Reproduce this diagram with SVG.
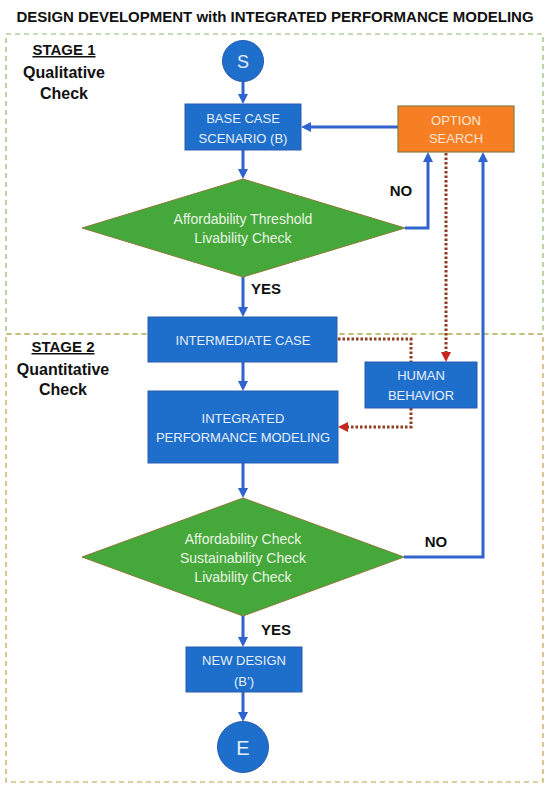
<svg xmlns="http://www.w3.org/2000/svg" width="550" height="788" viewBox="0 0 550 788">
<defs>
<style>
.title{font-family:"Liberation Sans",Arial,sans-serif;font-weight:bold;font-size:15px;fill:#111}
.stage{font-family:"Liberation Sans",Arial,sans-serif;font-weight:bold;font-size:15px;fill:#111;text-decoration:underline}
.stg{font-family:"Liberation Sans",Arial,sans-serif;font-weight:bold;font-size:16px;fill:#111}
.lbl{font-family:"Liberation Sans",Arial,sans-serif;font-weight:bold;font-size:15px;fill:#111}
.bx{fill:#1E6FCB;stroke:#2A5CAE;stroke-width:1}
.bt{font-family:"Liberation Sans",Arial,sans-serif;font-size:13px;fill:#E6EEFA;text-anchor:middle}
.dt{font-family:"Liberation Sans",Arial,sans-serif;font-size:14px;fill:#EAF5E4;text-anchor:middle}
.ct{font-family:"Liberation Sans",Arial,sans-serif;fill:#E6EEFA;text-anchor:middle}
.dia{fill:#45A83B;stroke:#8A7A3A;stroke-width:1}
.c{fill:none;stroke:#3163CE;stroke-width:3}
.r{fill:none;stroke:#8E3B1F;stroke-width:3;stroke-dasharray:2.5 2}
</style>
<marker id="ab" viewBox="0 0 10 10" markerUnits="userSpaceOnUse" markerWidth="10" markerHeight="10" refX="4" refY="5" orient="auto">
<path d="M0,0 L10,5 L0,10 z" fill="#3163CE"/>
</marker>
<marker id="ar" viewBox="0 0 10 10" markerUnits="userSpaceOnUse" markerWidth="10" markerHeight="10" refX="4" refY="5" orient="auto">
<path d="M0,0 L10,5 L0,10 z" fill="#C8281E"/>
</marker>
</defs>
<rect width="550" height="788" fill="#FFFFFF"/>
<text class="title" x="275" y="22" text-anchor="middle">DESIGN DEVELOPMENT with INTEGRATED PERFORMANCE MODELING</text>

<g id="stage1">
<rect x="6" y="34" width="537" height="300" fill="none" stroke="#8CB86A" stroke-width="1.2" stroke-dasharray="5 4"/>
<text class="stage" x="64" y="55" text-anchor="middle">STAGE 1</text>
<text class="stg" x="64" y="78" text-anchor="middle">Qualitative</text>
<text class="stg" x="64" y="99" text-anchor="middle">Check</text>
</g>
<g id="stage2">
<path d="M6,334 H543 V782 H6 Z" fill="none" stroke="#C4A044" stroke-width="1.2" stroke-dasharray="5 4"/>
<text class="stage" x="63" y="352" text-anchor="middle">STAGE 2</text>
<text class="stg" x="63" y="375" text-anchor="middle">Quantitative</text>
<text class="stg" x="63" y="395" text-anchor="middle">Check</text>
</g>

<g id="connectors">
<line class="c" x1="243" y1="81" x2="243" y2="98" marker-end="url(#ab)"/>
<line class="c" x1="398" y1="127" x2="307" y2="127" marker-end="url(#ab)"/>
<line class="c" x1="243" y1="150" x2="243" y2="173" marker-end="url(#ab)"/>
<path class="c" d="M405,228 H428 V158" marker-end="url(#ab)"/>
<line class="c" x1="243" y1="277" x2="243" y2="311" marker-end="url(#ab)"/>
<line class="c" x1="243" y1="362" x2="243" y2="385" marker-end="url(#ab)"/>
<line class="c" x1="243" y1="463" x2="243" y2="492" marker-end="url(#ab)"/>
<path class="c" d="M404,557 H483 V158" marker-end="url(#ab)"/>
<line class="c" x1="243" y1="616" x2="243" y2="641" marker-end="url(#ab)"/>
<line class="c" x1="243" y1="692" x2="243" y2="716" marker-end="url(#ab)"/>
<line class="r" x1="446" y1="153" x2="446" y2="356" marker-end="url(#ar)"/>
<path class="r" d="M338,339 H411 V362"/>
<path class="r" d="M411,408 V427 H344" marker-end="url(#ar)"/>
<text class="lbl" x="401" y="196" text-anchor="middle">NO</text>
<text class="lbl" x="266" y="294" text-anchor="middle">YES</text>
<text class="lbl" x="436" y="547" text-anchor="middle">NO</text>
<text class="lbl" x="276" y="635" text-anchor="middle">YES</text>
</g>

<g id="start">
<circle cx="243" cy="61" r="20.5" fill="#1E6FCB" stroke="#2A5CAE" stroke-width="1"/>
<text class="ct" x="243" y="67.5" font-size="18">S</text>
</g>
<g id="base-case">
<rect class="bx" x="185" y="104" width="116" height="46"/>
<text class="bt" x="243" y="123">BASE CASE</text>
<text class="bt" x="243" y="143">SCENARIO (B)</text>
</g>
<g id="option-search">
<rect x="398" y="106" width="116" height="46" fill="#F57F22" stroke="#8A7A3A" stroke-width="1.2"/>
<text class="bt" x="456" y="125" style="fill:#FCE4D2">OPTION</text>
<text class="bt" x="456" y="143" style="fill:#FCE4D2">SEARCH</text>
</g>
<g id="decision1">
<polygon class="dia" points="243,179 405,228 243,277 82,228"/>
<text class="dt" x="243" y="224">Affordability Threshold</text>
<text class="dt" x="243" y="243">Livability Check</text>
</g>
<g id="intermediate-case">
<rect class="bx" x="148" y="317" width="189" height="45"/>
<text class="bt" x="243" y="345">INTERMEDIATE CASE</text>
</g>
<g id="human-behavior">
<rect class="bx" x="365" y="362" width="112" height="46"/>
<text class="bt" x="421" y="380">HUMAN</text>
<text class="bt" x="421" y="400">BEHAVIOR</text>
</g>
<g id="ipm">
<rect class="bx" x="148" y="391" width="190" height="72"/>
<text class="bt" x="243" y="423">INTEGRATED</text>
<text class="bt" x="243" y="442">PERFORMANCE MODELING</text>
</g>
<g id="decision2">
<polygon class="dia" points="243,498 404,557 243,616 82,557"/>
<text class="dt" x="243" y="544">Affordability Check</text>
<text class="dt" x="243" y="563">Sustainability Check</text>
<text class="dt" x="243" y="582">Livability Check</text>
</g>
<g id="new-design">
<rect class="bx" x="186" y="647" width="116" height="45"/>
<text class="bt" x="244" y="665">NEW DESIGN</text>
<text class="bt" x="244" y="686">(B’)</text>
</g>
<g id="end">
<circle cx="243" cy="747" r="25.5" fill="#1E6FCB" stroke="#2A5CAE" stroke-width="1"/>
<text class="ct" x="243" y="754.5" font-size="20">E</text>
</g>
</svg>
